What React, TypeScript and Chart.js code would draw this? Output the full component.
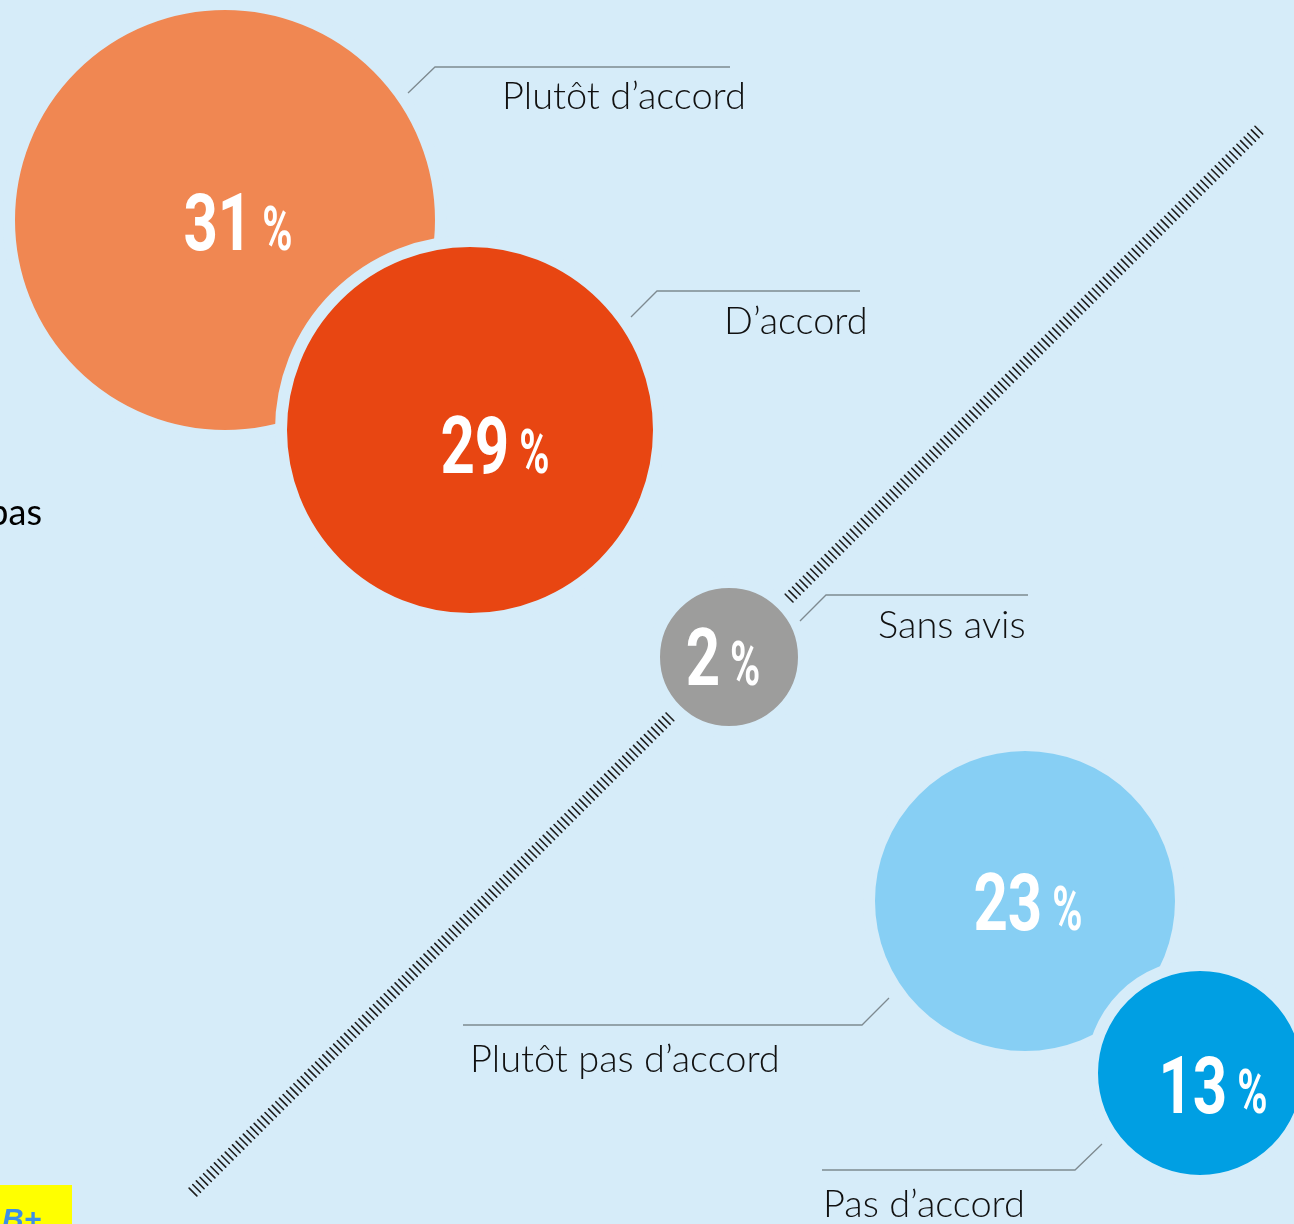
import { useEffect, useRef } from "react";
import { Chart, registerables } from "chart.js";

Chart.register(...registerables);

// ---- data ----
const categories = ["Plutôt d’accord", "D’accord", "Sans avis", "Plutôt pas d’accord", "Pas d’accord"];
const values = [31, 29, 2, 23, 13];

// ---- styles ----
const BG = "#D6ECF9";
const colors = ["#F08752", "#E84612", "#9D9D9C", "#87CFF4", "#009FE3"];
const GAP = 12;

// ---- layout (in scale units; scales span the canvas) ----
const bubbleX = [225, 470, 729, 1025, 1200];
const bubbleY = [220, 430, 657, 901, 1073];
const bubbleR = [210, 183, 69, 150, 102];
const numberDx = [13, 25, -6, 3, 13];
const numberDy = [30, 43, 28, 29, 40];
const labelX = [502, 724, 878, 470, 823];
const labelY = [109, 334, 638, 1072, 1217];
const leaders: number[][][] = [
  [[408, 93], [435, 67], [730, 67]],
  [[631, 317], [657, 291], [860, 291]],
  [[800, 621], [826, 595], [1028, 595]],
  [[463, 1025], [862, 1025], [889, 998]],
  [[822, 1170], [1075, 1170], [1102, 1144]],
];
const hatchFrom = [193, 1192];
const hatchTo = [1262, 127];

const W = 1294;
const H = 1224;

export default function App() {
  const ref = useRef<HTMLCanvasElement | null>(null);

  useEffect(() => {
    document.body.style.margin = "0";
    const canvas = ref.current;
    if (!canvas) return;

    const decor = {
      id: "decor",
      beforeDraw(chart: any) {
        const ctx = chart.ctx;
        ctx.save();
        ctx.fillStyle = BG;
        ctx.fillRect(0, 0, chart.width, chart.height);
        ctx.restore();
      },
      beforeDatasetsDraw(chart: any) {
        const ctx = chart.ctx;
        const xs = chart.scales.x;
        const ys = chart.scales.y;
        const x0 = xs.getPixelForValue(hatchFrom[0]);
        const y0 = ys.getPixelForValue(hatchFrom[1]);
        const x1 = xs.getPixelForValue(hatchTo[0]);
        const y1 = ys.getPixelForValue(hatchTo[1]);
        const len = Math.hypot(x1 - x0, y1 - y0);
        const ux = (x1 - x0) / len;
        const uy = (y1 - y0) / len;
        const nx = -uy;
        const ny = ux;
        ctx.save();
        ctx.strokeStyle = "#1E1E1E";
        ctx.lineWidth = 1.6;
        ctx.lineCap = "round";
        ctx.beginPath();
        for (let t = 0; t <= len; t += 5.1) {
          const cx = x0 + ux * t;
          const cy = y0 + uy * t;
          ctx.moveTo(cx - nx * 5.5, cy - ny * 5.5);
          ctx.lineTo(cx + nx * 5.5, cy + ny * 5.5);
        }
        ctx.stroke();
        ctx.restore();
      },
      afterDatasetsDraw(chart: any) {
        const ctx = chart.ctx;
        const xs = chart.scales.x;
        const ys = chart.scales.y;
        const meta = chart.getDatasetMeta(0);
        const s = 0.75;
        const sp = 0.66;
        ctx.save();
        ctx.fillStyle = "#FFFFFF";
        ctx.textBaseline = "alphabetic";
        ctx.textAlign = "left";
        meta.data.forEach((el: any, i: number) => {
          const num = String(values[i]);
          ctx.font = "700 80px Roboto";
          const wn = ctx.measureText(num).width * s;
          ctx.font = "700 62px Roboto";
          const wp = ctx.measureText("%").width * sp;
          const gap = 10;
          const total = wn + gap + wp;
          const cx = el.x + numberDx[i];
          const by = el.y + numberDy[i];
          const left = cx - total / 2;
          ctx.save();
          ctx.translate(left, by);
          ctx.scale(s, 1);
          ctx.font = "700 80px Roboto";
          ctx.fillText(num, 0, 0);
          ctx.restore();
          ctx.save();
          ctx.translate(left + wn + gap, by);
          ctx.scale(sp, 1);
          ctx.font = "700 62px Roboto";
          ctx.fillText("%", 0, 0);
          ctx.restore();
        });
        ctx.restore();

        // leaders and category labels
        ctx.save();
        ctx.strokeStyle = "#7E8A90";
        ctx.lineWidth = 1.3;
        leaders.forEach((pts) => {
          ctx.beginPath();
          pts.forEach((p, k) => {
            const px = xs.getPixelForValue(p[0]);
            const py = ys.getPixelForValue(p[1]);
            if (k === 0) ctx.moveTo(px, py);
            else ctx.lineTo(px, py);
          });
          ctx.stroke();
        });
        ctx.fillStyle = "#111111";
        ctx.font = "300 38px Lato";
        ctx.textAlign = "left";
        ctx.textBaseline = "alphabetic";
        categories.forEach((c, i) => {
          ctx.fillText(c, xs.getPixelForValue(labelX[i]), ys.getPixelForValue(labelY[i]));
        });

        // fragments of the surrounding slide
        ctx.fillStyle = "#000000";
        ctx.font = "400 36px Lato";
        ctx.textAlign = "right";
        ctx.fillText("pas", 42, 525);
        ctx.fillStyle = "#FFFF00";
        ctx.fillRect(0, 1185, 72, H - 1185);
        ctx.fillStyle = "#3D8FE6";
        ctx.font = "italic 700 30px 'Liberation Sans'";
        ctx.textAlign = "left";
        ctx.fillText("B+", 2, 1229);
        ctx.restore();
      },
    };

    const chart = new Chart(canvas, {
      type: "bubble",
      data: {
        datasets: [
          {
            label: "Réponses",
            data: values.map((v, i) => ({ x: bubbleX[i], y: bubbleY[i], r: bubbleR[i] + GAP / 2 })),
            backgroundColor: colors,
            borderColor: BG,
            borderWidth: GAP,
            hoverBorderWidth: GAP,
            hoverRadius: 0,
            clip: false,
          } as any,
        ],
      },
      options: {
        animation: false,
        responsive: false,
        events: [],
        layout: { padding: 0, autoPadding: false },
        plugins: { legend: { display: false }, tooltip: { enabled: false } },
        scales: {
          x: { type: "linear", min: 0, max: W, display: false, offset: false },
          y: { type: "linear", min: 0, max: H, reverse: true, display: false, offset: false },
        },
      },
      plugins: [decor],
    });

    return () => chart.destroy();
  }, []);

  return (
    <div style={{ position: "fixed", left: 0, top: 0, width: W, height: H, background: BG }}>
      <canvas ref={ref} width={W} height={H} style={{ display: "block", width: W, height: H }} />
    </div>
  );
}
